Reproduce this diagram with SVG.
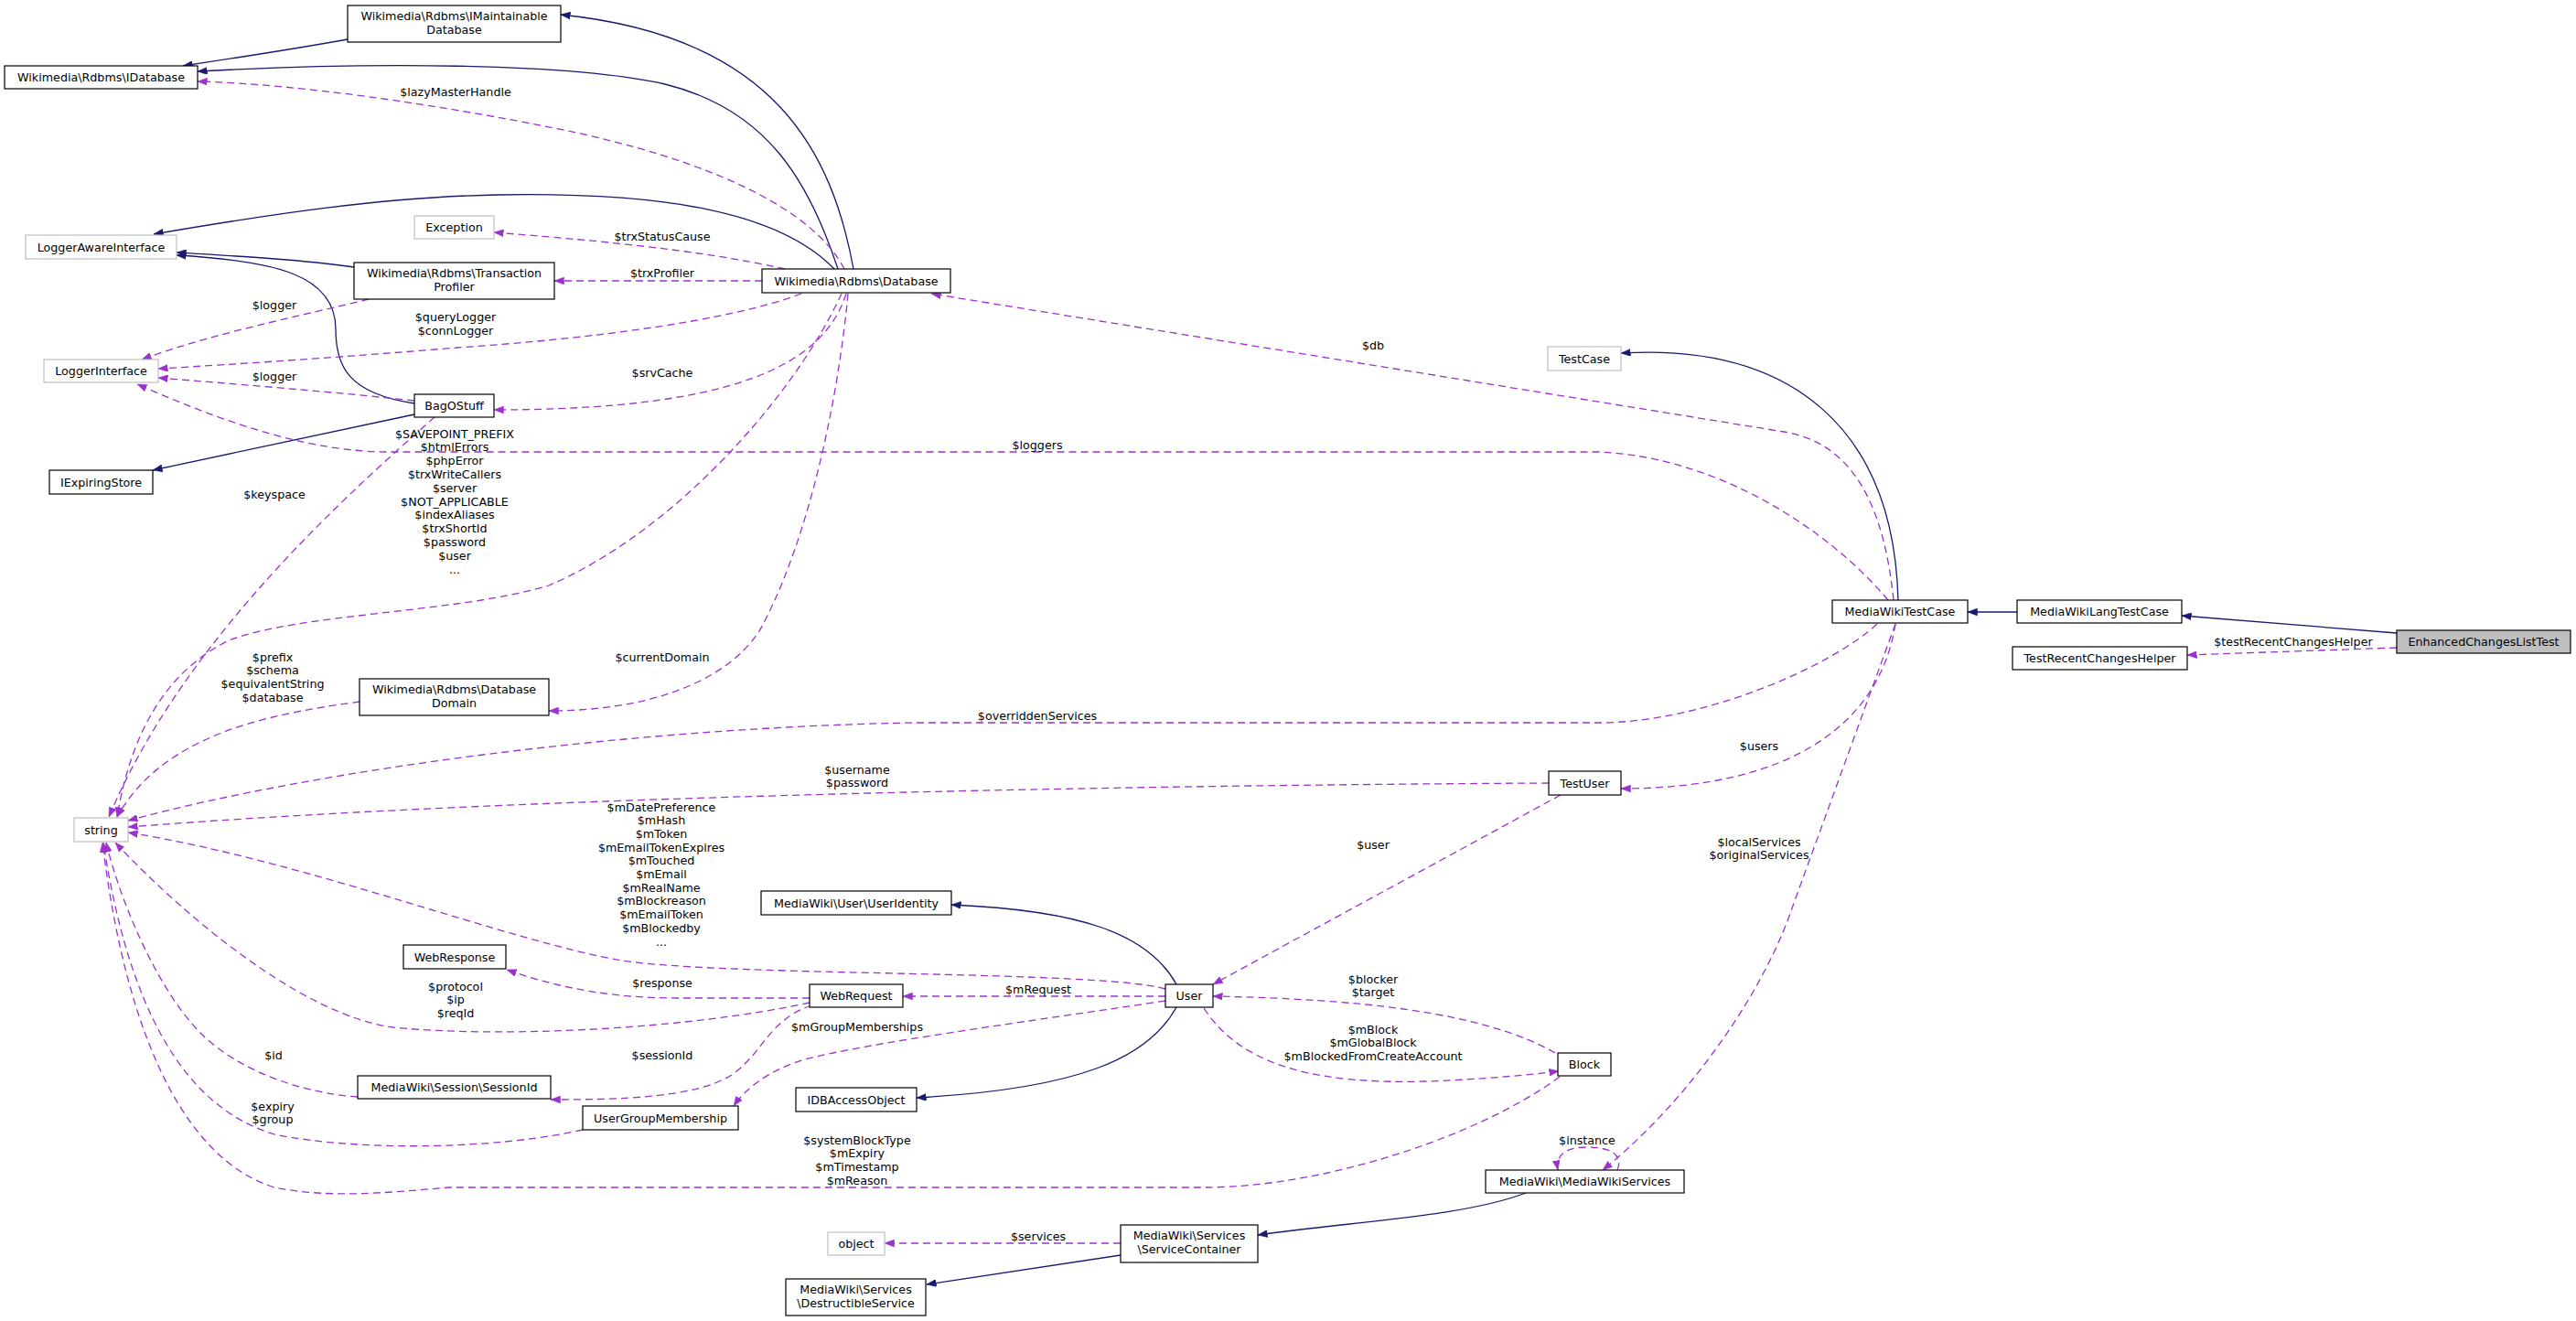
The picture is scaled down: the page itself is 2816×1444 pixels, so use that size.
<svg xmlns="http://www.w3.org/2000/svg" width="2816" height="1444" viewBox="0 0 2816 1444">
<style>
  .bg{fill:#ffffff}
  .nb rect{fill:#ffffff;stroke:#000000;stroke-width:1.2}
  .ng rect{fill:#ffffff;stroke:#bfbfbf;stroke-width:1.2}
  .nc rect{fill:#bfbfbf;stroke:#000000;stroke-width:1.2}
  text{font-family:"DejaVu Sans","Liberation Sans",sans-serif;font-size:12.7px;fill:#000000;text-anchor:middle}
  .inh{fill:none;stroke:#191970;stroke-width:1.3;marker-end:url(#aN)}
  .use{fill:none;stroke:#9a32cd;stroke-width:1.3;stroke-dasharray:8,5;marker-end:url(#aP)}
</style>
<defs>
  <marker id="aN" markerUnits="userSpaceOnUse" markerWidth="11" markerHeight="8" refX="10.5" refY="4" orient="auto">
    <path d="M0,0 L10.5,4 L0,8 z" fill="#191970" stroke="#191970" stroke-width="0.5"/>
  </marker>
  <marker id="aP" markerUnits="userSpaceOnUse" markerWidth="11" markerHeight="8" refX="10.5" refY="4" orient="auto">
    <path d="M0,0 L10.5,4 L0,8 z" fill="#9a32cd" stroke="#9a32cd" stroke-width="0.5"/>
  </marker>
</defs>
<rect class="bg" x="0" y="0" width="2816" height="1444"/>

<g id="connectors">
  <!-- inheritance -->
  <path class="inh" d="M380,43 C330,52 260,63 200,72"/>
  <path class="inh" d="M933,294 C910,170 850,40 613,16"/>
  <path class="inh" d="M916,294 C885,200 840,120 727,92 C620,68 400,68 216,78"/>
  <path class="inh" d="M912,294 C850,230 720,210 545,213 C420,215 290,235 168,256"/>
  <path class="inh" d="M387,292 C330,284 260,280 193,276"/>
  <path class="inh" d="M453,441 C380,430 367,400 367,360 C367,300 300,285 193,279"/>
  <path class="inh" d="M453,453 L167,514"/>
  <path class="inh" d="M2075,656 C2070,470 1960,375 1772,386"/>
  <path class="inh" d="M2205,669 L2151,669"/>
  <path class="inh" d="M2620,692 L2385,673"/>
  <path class="inh" d="M1286,1076 C1255,1020 1180,995 1040,989"/>
  <path class="inh" d="M1286,1101 C1255,1157 1180,1190 1002,1200"/>
  <path class="inh" d="M1668,1304 C1600,1330 1480,1335 1375,1350"/>
  <path class="inh" d="M1225,1372 L1013,1404"/>

  <!-- usage -->
  <path class="use" d="M923,294 C890,230 780,175 606,140 C480,115 330,92 216,89"/>
  <path class="use" d="M858,294 C760,272 640,262 540,254"/>
  <path class="use" d="M833,307 L606,307"/>
  <path class="use" d="M876,321 C800,350 650,370 500,380 C380,390 260,398 173,403"/>
  <path class="use" d="M403,327 C330,345 230,365 155,393"/>
  <path class="use" d="M453,438 C360,428 260,420 173,413"/>
  <path class="use" d="M925,321 C900,400 800,448 540,448"/>
  <path class="use" d="M920,321 C870,430 740,580 600,640 C500,670 330,670 250,700 C170,740 140,820 128,893"/>
  <path class="use" d="M927,321 C915,450 880,600 830,690 C790,750 700,777 600,777"/>
  <path class="use" d="M475,456 C380,540 200,700 119,893"/>
  <path class="use" d="M393,767 C300,780 180,800 128,893"/>
  <path class="use" d="M2064,656 C2000,580 1880,500 1748,494 L424,494 C330,494 230,455 150,420"/>
  <path class="use" d="M2070,656 C2060,560 2030,485 1950,472 L1018,321"/>
  <path class="use" d="M2052,682 C2000,730 1860,790 1748,790 L1000,790 C700,795 350,840 140,897"/>
  <path class="use" d="M1693,856 C1300,858 600,868 140,904"/>
  <path class="use" d="M1274,1081 C1200,1060 800,1068 680,1050 C560,1030 330,940 140,910"/>
  <path class="use" d="M885,1096 C750,1125 550,1135 430,1123 C330,1110 200,1000 126,921"/>
  <path class="use" d="M391,1199 C330,1195 260,1170 220,1130 C170,1080 130,980 116,921"/>
  <path class="use" d="M637,1235 C550,1255 400,1260 300,1240 C200,1210 140,1100 113,921"/>
  <path class="use" d="M1705,1177 C1620,1240 1450,1298 1316,1298 L491,1298 C420,1304 360,1310 300,1298 C210,1270 140,1150 112,921"/>
  <path class="use" d="M2072,682 C2055,790 1960,862 1772,862"/>
  <path class="use" d="M2072,682 L1960,990 C1930,1080 1850,1200 1752,1279"/>
  <path class="use" d="M1768,1279 C1775,1262 1760,1254 1735,1254 C1712,1254 1700,1262 1703,1279"/>
  <path class="use" d="M1706,869 L1326,1076"/>
  <path class="use" d="M1274,1089 L987,1089"/>
  <path class="use" d="M1274,1094 C1100,1120 950,1140 880,1158 C840,1170 815,1190 802,1209"/>
  <path class="use" d="M1700,1151 C1620,1105 1480,1092 1326,1089"/>
  <path class="use" d="M1316,1102 C1360,1170 1450,1185 1560,1182 C1620,1180 1670,1175 1704,1171"/>
  <path class="use" d="M885,1091 L740,1091 C670,1091 610,1080 554,1060"/>
  <path class="use" d="M887,1099 C840,1115 835,1150 800,1175 C760,1200 680,1202 602,1202"/>
  <path class="use" d="M1225,1359 L967,1359"/>
  <path class="use" d="M2620,708 L2391,716"/>

  <!-- labels -->
  <text x="498" y="104.5">$lazyMasterHandle</text>
  <text x="724" y="262.5">$trxStatusCause</text>
  <text x="724" y="302.5">$trxProfiler</text>
  <text x="300" y="337.5">$logger</text>
  <text x="498" y="350.5">$queryLogger</text>
  <text x="498" y="365.5">$connLogger</text>
  <text x="724" y="411.5">$srvCache</text>
  <text x="300" y="415.5">$logger</text>
  <text x="497" y="478.5">$SAVEPOINT_PREFIX</text>
  <text x="497" y="493.3">$htmlErrors</text>
  <text x="497" y="508.1">$phpError</text>
  <text x="497" y="522.9">$trxWriteCallers</text>
  <text x="497" y="537.7">$server</text>
  <text x="497" y="552.5">$NOT_APPLICABLE</text>
  <text x="497" y="567.3">$indexAliases</text>
  <text x="497" y="582.1">$trxShortId</text>
  <text x="497" y="596.9">$password</text>
  <text x="497" y="611.7">$user</text>
  <text x="497" y="626.5">...</text>
  <text x="300" y="544.5">$keyspace</text>
  <text x="1134" y="490.5">$loggers</text>
  <text x="1501" y="381.5">$db</text>
  <text x="724" y="722.5">$currentDomain</text>
  <text x="298" y="722.5">$prefix</text>
  <text x="298" y="737.3">$schema</text>
  <text x="298" y="752.1">$equivalentString</text>
  <text x="298" y="766.9">$database</text>
  <text x="1134" y="786.5">$overriddenServices</text>
  <text x="1923" y="819.5">$users</text>
  <text x="937" y="845.5">$username</text>
  <text x="937" y="860.3">$password</text>
  <text x="723" y="886.5">$mDatePreference</text>
  <text x="723" y="901.2">$mHash</text>
  <text x="723" y="915.9">$mToken</text>
  <text x="723" y="930.6">$mEmailTokenExpires</text>
  <text x="723" y="945.3">$mTouched</text>
  <text x="723" y="960">$mEmail</text>
  <text x="723" y="974.7">$mRealName</text>
  <text x="723" y="989.4">$mBlockreason</text>
  <text x="723" y="1004.1">$mEmailToken</text>
  <text x="723" y="1018.8">$mBlockedby</text>
  <text x="723" y="1033.5">...</text>
  <text x="1501" y="927.5">$user</text>
  <text x="1923" y="924.5">$localServices</text>
  <text x="1923" y="939.3">$originalServices</text>
  <text x="1501" y="1074.5">$blocker</text>
  <text x="1501" y="1089.3">$target</text>
  <text x="724" y="1078.5">$response</text>
  <text x="498" y="1082.5">$protocol</text>
  <text x="498" y="1097.3">$ip</text>
  <text x="498" y="1112.1">$reqId</text>
  <text x="1135" y="1085.5">$mRequest</text>
  <text x="937" y="1126.5">$mGroupMemberships</text>
  <text x="1501" y="1129.5">$mBlock</text>
  <text x="1501" y="1144.3">$mGlobalBlock</text>
  <text x="1501" y="1159.1">$mBlockedFromCreateAccount</text>
  <text x="724" y="1157.5">$sessionId</text>
  <text x="299" y="1157.5">$id</text>
  <text x="298" y="1213.5">$expiry</text>
  <text x="298" y="1228.3">$group</text>
  <text x="937" y="1250.5">$systemBlockType</text>
  <text x="937" y="1265.3">$mExpiry</text>
  <text x="937" y="1280.1">$mTimestamp</text>
  <text x="937" y="1294.9">$mReason</text>
  <text x="1735" y="1250.5">$instance</text>
  <text x="1135" y="1355.5">$services</text>
  <text x="2507" y="705.5">$testRecentChangesHelper</text>
</g>

<g id="n-IMaintainableDatabase" class="nb"><rect x="380" y="6" width="233" height="40"/><text x="496.5" y="22">Wikimedia\Rdbms\IMaintainable</text><text x="496.5" y="37">Database</text></g>
<g id="n-IDatabase" class="nb"><rect x="5" y="72" width="211" height="25"/><text x="110.5" y="89">Wikimedia\Rdbms\IDatabase</text></g>
<g id="n-LoggerAwareInterface" class="ng"><rect x="28" y="257" width="165" height="26"/><text x="110.5" y="274.5">LoggerAwareInterface</text></g>
<g id="n-Exception" class="ng"><rect x="453" y="236" width="87" height="25"/><text x="496.5" y="253">Exception</text></g>
<g id="n-TransactionProfiler" class="nb"><rect x="387" y="287" width="219" height="40"/><text x="496.5" y="303">Wikimedia\Rdbms\Transaction</text><text x="496.5" y="318">Profiler</text></g>
<g id="n-Database" class="nb"><rect x="833" y="294" width="206" height="26"/><text x="936" y="311.5">Wikimedia\Rdbms\Database</text></g>
<g id="n-LoggerInterface" class="ng"><rect x="48" y="393" width="125" height="25"/><text x="110.5" y="410">LoggerInterface</text></g>
<g id="n-BagOStuff" class="nb"><rect x="453" y="431" width="87" height="25"/><text x="496.5" y="448">BagOStuff</text></g>
<g id="n-IExpiringStore" class="nb"><rect x="54" y="514" width="113" height="26"/><text x="110.5" y="531.5">IExpiringStore</text></g>
<g id="n-DatabaseDomain" class="nb"><rect x="393" y="742" width="207" height="40"/><text x="496.5" y="758">Wikimedia\Rdbms\Database</text><text x="496.5" y="773">Domain</text></g>
<g id="n-string" class="ng"><rect x="81" y="894" width="59" height="26"/><text x="110.5" y="911.5">string</text></g>
<g id="n-TestCase" class="ng"><rect x="1692" y="379" width="80" height="26"/><text x="1732" y="396.5">TestCase</text></g>
<g id="n-MediaWikiTestCase" class="nb"><rect x="2003" y="656" width="148" height="25"/><text x="2077" y="673">MediaWikiTestCase</text></g>
<g id="n-MediaWikiLangTestCase" class="nb"><rect x="2205" y="656" width="180" height="25"/><text x="2295" y="673">MediaWikiLangTestCase</text></g>
<g id="n-EnhancedChangesListTest" class="nc"><rect x="2620" y="689" width="190" height="25"/><text x="2715" y="706">EnhancedChangesListTest</text></g>
<g id="n-TestRecentChangesHelper" class="nb"><rect x="2200" y="707" width="191" height="25"/><text x="2295.5" y="724">TestRecentChangesHelper</text></g>
<g id="n-TestUser" class="nb"><rect x="1693" y="843" width="79" height="26"/><text x="1732.5" y="860.5">TestUser</text></g>
<g id="n-UserIdentity" class="nb"><rect x="832" y="974" width="208" height="26"/><text x="936" y="991.5">MediaWiki\User\UserIdentity</text></g>
<g id="n-WebResponse" class="nb"><rect x="441" y="1033" width="112" height="26"/><text x="497" y="1050.5">WebResponse</text></g>
<g id="n-WebRequest" class="nb"><rect x="885" y="1076" width="102" height="25"/><text x="936" y="1093">WebRequest</text></g>
<g id="n-User" class="nb"><rect x="1274" y="1076" width="52" height="25"/><text x="1300" y="1093">User</text></g>
<g id="n-Block" class="nb"><rect x="1703" y="1151" width="58" height="25"/><text x="1732" y="1168">Block</text></g>
<g id="n-SessionId" class="nb"><rect x="391" y="1176" width="211" height="25"/><text x="496.5" y="1193">MediaWiki\Session\SessionId</text></g>
<g id="n-UserGroupMembership" class="nb"><rect x="637" y="1209" width="170" height="26"/><text x="722" y="1226.5">UserGroupMembership</text></g>
<g id="n-IDBAccessObject" class="nb"><rect x="870" y="1189" width="132" height="26"/><text x="936" y="1206.5">IDBAccessObject</text></g>
<g id="n-MediaWikiServices" class="nb"><rect x="1624" y="1279" width="217" height="25"/><text x="1732.5" y="1296">MediaWiki\MediaWikiServices</text></g>
<g id="n-object" class="ng"><rect x="905" y="1347" width="62" height="25"/><text x="936" y="1364">object</text></g>
<g id="n-ServiceContainer" class="nb"><rect x="1225" y="1339" width="150" height="41"/><text x="1300" y="1355">MediaWiki\Services</text><text x="1300" y="1370">\ServiceContainer</text></g>
<g id="n-DestructibleService" class="nb"><rect x="859" y="1398" width="153" height="40"/><text x="935.5" y="1414">MediaWiki\Services</text><text x="935.5" y="1429">\DestructibleService</text></g>
</svg>
